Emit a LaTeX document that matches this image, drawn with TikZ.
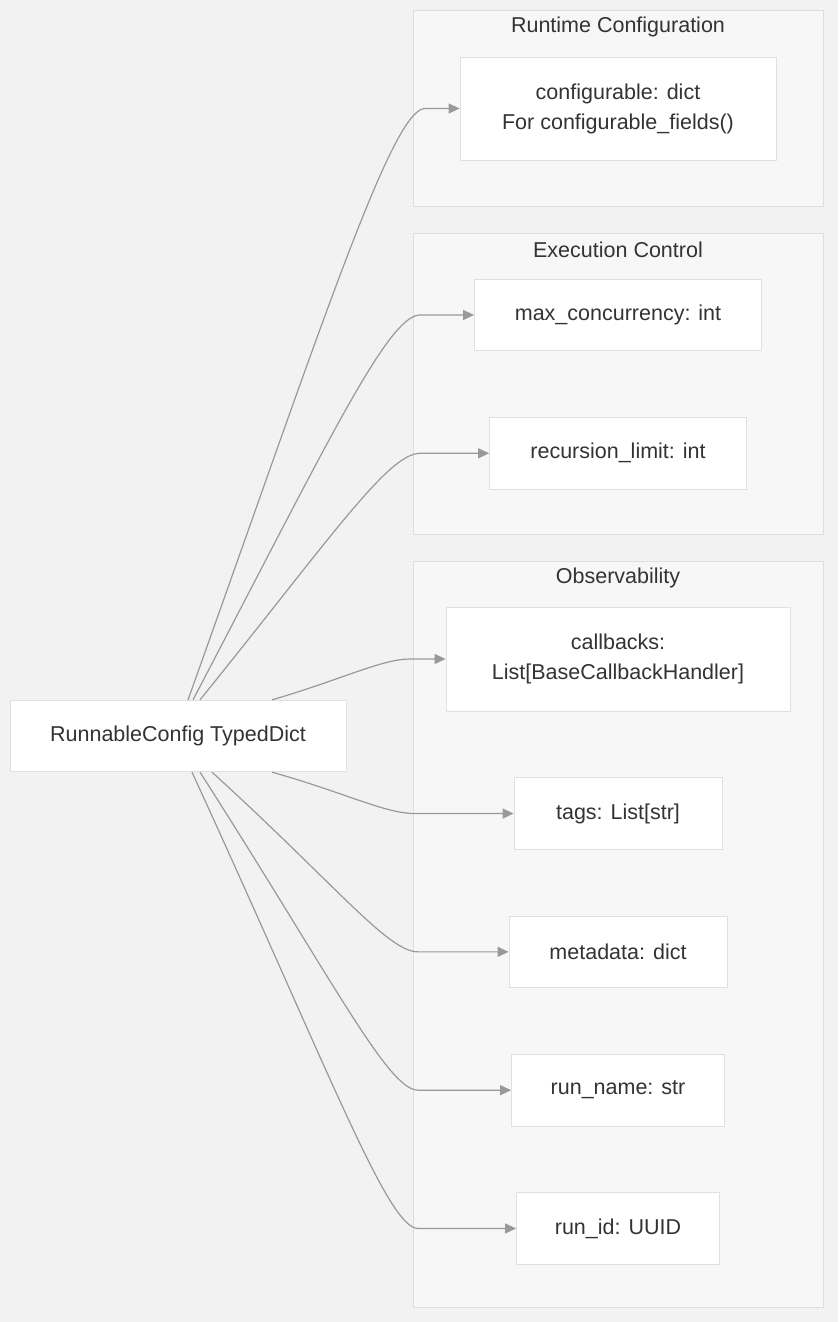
\documentclass[tikz,border=0pt]{standalone}
\usepackage{fontspec}
\setmainfont{Liberation Sans}
\usepackage{xcolor}
\usetikzlibrary{arrows.meta,positioning}

\definecolor{bgcol}{HTML}{F2F2F2}
\definecolor{grpfill}{HTML}{F7F7F7}
\definecolor{grpline}{HTML}{DEDEDE}
\definecolor{nodeline}{HTML}{E0E0E0}
\definecolor{textcol}{HTML}{333333}
\definecolor{edgecol}{HTML}{999999}

\begin{document}
\begin{tikzpicture}[
  x=1pt, y=-1pt,
  node distance=66pt,
  field/.style={rectangle, draw=nodeline, fill=white, minimum height=71.5pt,
                font=\fontsize{21.5}{30}\selectfont, text=textcol, align=center, line width=0.8pt},
  group/.style={rectangle, draw=grpline, fill=grpfill, minimum width=410pt, line width=0.8pt},
  grptitle/.style={font=\fontsize{21.5}{26}\selectfont, text=textcol},
  arr/.style={-{Triangle[length=11pt,width=10pt]}, draw=edgecol, line width=1.2pt},
]

% Canvas
\fill[bgcol] (0,0) rectangle (838,1322);
\useasboundingbox (0,0) rectangle (838,1322);

% Groups
\node[group, minimum height=196pt] (rtc) at (618,108) {};
\node[grptitle] (rtctitle) at (618,27) {Runtime Configuration};
\node[group, minimum height=301pt] (exc) at (618,383.5) {};
\node[grptitle] (exctitle) at (618,250) {Execution Control};
\node[group, minimum height=746pt] (obs) at (618,934) {};
\node[grptitle] (obstitle) at (618,578) {Observability};

% Source
\node[field, minimum width=336pt] (cfgdict) at (178,736) {RunnableConfig TypedDict};

% Runtime configuration
\node[field, minimum width=316pt, minimum height=103pt] (configurable) at (618,108.5)
  {configurable: dict\\For configurable\_fields()};

% Execution control
\node[field, minimum width=287pt] (maxconc) at (618,315) {max\_concurrency: int};
\node[field, minimum width=257pt, below=of maxconc] (reclimit) {recursion\_limit: int};

% Observability
\node[field, minimum width=344pt, minimum height=104pt] (callbacks) at (618,659)
  {callbacks:\\List[BaseCallbackHandler]};
\node[field, minimum width=208pt, below=of callbacks] (tags) {tags: List[str]};
\node[field, minimum width=218pt, below=of tags] (metadata) {metadata: dict};
\node[field, minimum width=213pt, below=of metadata] (runname) {run\_name: str};
\node[field, minimum width=203pt, below=of runname] (runid) {run\_id: UUID};

% Edges up
\draw[arr] ([xshift=10pt]cfgdict.north) .. controls (321,328) and (392,0 |- configurable.west) .. (425,0 |- configurable.west) -- (configurable.west);
\draw[arr] ([xshift=15pt]cfgdict.north) .. controls (327,444) and (388,0 |- maxconc.west) .. (420,0 |- maxconc.west) -- (maxconc.west);
\draw[arr] ([xshift=22pt]cfgdict.north) .. controls (330,539) and (388,0 |- reclimit.west) .. (420,0 |- reclimit.west) -- (reclimit.west);
\draw[arr] ([xshift=94pt]cfgdict.north) .. controls (343,679) and (382,0 |- callbacks.west) .. (410,0 |- callbacks.west) -- (callbacks.west);

% Edges down
\draw[arr] ([xshift=94pt]cfgdict.south) .. controls (346,793) and (385,0 |- tags.west) .. (415,0 |- tags.west) -- (tags.west);
\draw[arr] ([xshift=34pt]cfgdict.south) .. controls (337,886) and (388,0 |- metadata.west) .. (418,0 |- metadata.west) -- (metadata.west);
\draw[arr] ([xshift=22pt]cfgdict.south) .. controls (333,980) and (388,0 |- runname.west) .. (418,0 |- runname.west) -- (runname.west);
\draw[arr] ([xshift=14pt]cfgdict.south) .. controls (331,1075) and (388,0 |- runid.west) .. (418,0 |- runid.west) -- (runid.west);

\end{tikzpicture}
\end{document}
